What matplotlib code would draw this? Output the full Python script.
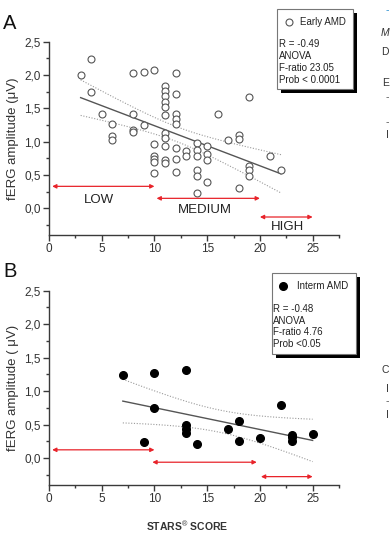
import numpy as np
import matplotlib
matplotlib.use('Agg')
import matplotlib.pyplot as plt
from matplotlib.patches import Rectangle
from matplotlib.lines import Line2D
from matplotlib.ticker import MultipleLocator, FuncFormatter

plt.rcParams['font.family'] = ['Liberation Sans', 'DejaVu Sans']
plt.rcParams['mathtext.fontset'] = 'custom'
plt.rcParams['mathtext.rm'] = 'Liberation Sans'
plt.rcParams['mathtext.bf'] = 'Liberation Sans:bold'

# ---------------- data ----------------
# Panel A: Early AMD (STARS score, fERG amplitude)
early_x = [3, 4, 4, 5, 6, 6, 6, 8, 8, 8, 8, 9, 9,
           10, 10, 10, 10, 10, 10,
           11, 11, 11, 11, 11, 11, 11, 11, 11, 11, 11,
           12, 12, 12, 12, 12, 12, 12, 12,
           13, 13, 14, 14, 14, 14, 14, 14,
           15, 15, 15, 15, 16, 17, 18, 18, 18,
           19, 19, 19, 19, 21, 22]
early_y = [2.00, 2.24, 1.75, 1.42, 1.27, 1.08, 1.02, 2.03, 1.41, 1.17, 1.14, 2.05, 1.25,
           2.07, 0.97, 0.78, 0.74, 0.70, 0.53,
           1.84, 1.76, 1.68, 1.60, 1.52, 1.40, 1.13, 1.06, 0.93, 0.73, 0.68,
           2.03, 1.72, 1.42, 1.34, 1.26, 0.90, 0.74, 0.54,
           0.86, 0.79, 0.98, 0.88, 0.79, 0.58, 0.48, 0.23,
           0.94, 0.82, 0.72, 0.39, 1.42, 1.03, 1.10, 1.04, 0.31,
           1.67, 0.64, 0.57, 0.49, 0.79, 0.57]

# Panel B: Intermediate AMD
interm_x = [7, 9, 10, 10, 13, 13, 13, 13, 14, 17, 18, 18, 20, 22, 23, 23, 23, 25]
interm_y = [1.24, 0.24, 1.27, 0.75, 1.32, 0.50, 0.44, 0.38, 0.21, 0.43, 0.56, 0.25,
            0.30, 0.79, 0.35, 0.31, 0.26, 0.36]

zone_names = ['LOW', 'MEDIUM', 'HIGH']
zone_ranges_a = [(0.3, 10.0), (10.2, 20.0), (20.0, 25.0)]
zone_ranges_b = [(0.3, 10.0), (9.8, 19.7), (20.1, 25.0)]

x_ticks = [0, 5, 10, 15, 20, 25]
y_ticks = [0.0, 0.5, 1.0, 1.5, 2.0, 2.5]

legend_a = ['Early AMD', 'R = -0.49', 'ANOVA', 'F-ratio 23.05', 'Prob < 0.0001']
legend_b = ['Interm AMD', 'R = -0.48', 'ANOVA', 'F-ratio 4.76', 'Prob <0.05']
t_crit_a = 2.0
t_crit_b = 2.12

# ---------------- layout ----------------
W, H = 390, 537
fig = plt.figure(figsize=(W / 100, H / 100), dpi=100)
RED = '#e8232a'
AXC = '#3a3a3a'


def px(x, y):
    return x / W, 1 - y / H


def setup_axis(ax, ylabel):
    ax.set_xlim(0, 27.5)
    ax.set_ylim(-0.4, 2.5)
    for s in ['top', 'right']:
        ax.spines[s].set_visible(False)
    for s in ['left', 'bottom']:
        ax.spines[s].set_color(AXC)
        ax.spines[s].set_linewidth(1.0)
    ax.set_xticks(x_ticks)
    ax.set_yticks(y_ticks)
    ax.xaxis.set_minor_locator(MultipleLocator(2.5))
    ax.yaxis.set_minor_locator(MultipleLocator(0.25))
    ax.yaxis.set_major_formatter(FuncFormatter(lambda v, p: f'{v:.1f}'.replace('.', ',')))
    ax.tick_params(which='major', direction='out', length=4, width=1, color=AXC,
                   labelsize=8.5, labelcolor='#333333', pad=2)
    ax.tick_params(which='minor', direction='out', length=2.5, width=1, color=AXC)
    ax.set_ylabel(ylabel, fontsize=9.5, color='#333333')
    ax.yaxis.set_label_coords(-0.103, 0.5)
    ax.patch.set_alpha(0)


def fit_lines(ax, xs, ys, tcrit):
    x = np.asarray(xs, float)
    y = np.asarray(ys, float)
    n = len(x)
    b, a = np.polyfit(x, y, 1)
    xx = np.linspace(x.min(), x.max(), 100)
    yy = a + b * xx
    resid = y - (a + b * x)
    s = np.sqrt(np.sum(resid ** 2) / (n - 2))
    sxx = np.sum((x - x.mean()) ** 2)
    se = s * np.sqrt(1 / n + (xx - x.mean()) ** 2 / sxx)
    ax.plot(xx, yy, color='#555555', lw=1.0, zorder=2)
    ax.plot(xx, yy + tcrit * se, color='#9a9a9a', lw=0.8, ls=(0, (1, 1.5)), zorder=2)
    ax.plot(xx, yy - tcrit * se, color='#9a9a9a', lw=0.8, ls=(0, (1, 1.5)), zorder=2)


def arrow(ax, x0, x1, y):
    ax.annotate('', xy=(x1, y), xytext=(x0, y),
                arrowprops=dict(arrowstyle='<|-|>', color=RED, lw=0.9,
                                mutation_scale=6, shrinkA=0, shrinkB=0))


def legend_box(box, shadow, marker_xy, filled, lines, title_x, text_x, line_ys):
    x0, y0, x1, y1 = box
    sh = Rectangle(px(x0 + shadow, y1 + shadow), (x1 - x0) / W, (y1 - y0) / H,
                   transform=fig.transFigure, facecolor='black', edgecolor='none', zorder=5)
    fig.add_artist(sh)
    bx = Rectangle(px(x0, y1), (x1 - x0) / W, (y1 - y0) / H,
                   transform=fig.transFigure, facecolor='white', edgecolor='#777777',
                   lw=0.8, zorder=6)
    fig.add_artist(bx)
    mx, my = px(*marker_xy)
    if filled:
        m = Line2D([mx], [my], marker='o', ms=5.5, mfc='black', mec='black',
                   transform=fig.transFigure, zorder=7)
    else:
        m = Line2D([mx], [my], marker='o', ms=5, mfc='white', mec='#555555', mew=0.8,
                   transform=fig.transFigure, zorder=7)
    fig.add_artist(m)
    fig.text(*px(title_x, marker_xy[1]), lines[0], fontsize=7, va='center', ha='left',
             color='#222222', zorder=8)
    for t, yy in zip(lines[1:], line_ys):
        fig.text(*px(text_x, yy), t, fontsize=7, va='center', ha='left',
                 color='#222222', zorder=8)


# ---------------- panel A ----------------
axA = fig.add_axes([49 / W, 1 - 235 / H, 290 / W, (235 - 41.7) / H])
setup_axis(axA, 'fERG amplitude (\u03bcV)')
fit_lines(axA, early_x, early_y, t_crit_a)
axA.plot(early_x, early_y, ls='none', marker='o', ms=5, mfc='white', mec='#555555',
         mew=0.8, zorder=3)
for (x0, x1), yv in zip(zone_ranges_a, [0.33, 0.15, -0.13]):
    arrow(axA, x0, x1, yv)
for name, (xc, yc) in zip(zone_names, [(4.7, 0.13), (14.8, -0.03), (22.6, -0.28)]):
    axA.text(xc, yc, name, fontsize=9.5, ha='center', va='center', color='#222222')

# ---------------- panel B ----------------
axB = fig.add_axes([49 / W, 1 - 485 / H, 290 / W, (485 - 290.7) / H])
setup_axis(axB, 'fERG amplitude ( \u03bcV)')
fit_lines(axB, interm_x, interm_y, t_crit_b)
axB.plot(interm_x, interm_y, ls='none', marker='o', ms=5.5, mfc='black', mec='black',
         zorder=3)
for (x0, x1), yv in zip(zone_ranges_b, [0.125, -0.06, -0.275]):
    arrow(axB, x0, x1, yv)

fig.text(*px(187.5, 526), r'STARS$^{\circledR}$ SCORE', fontsize=7.5, fontweight='bold',
         ha='center', va='center', color='#333333')

# panel letters
fig.text(*px(3, 29.3), 'A', fontsize=14.5, ha='left', va='baseline', color='#111111')
fig.text(*px(3, 276.7), 'B', fontsize=14.5, ha='left', va='baseline', color='#111111')

# legends
legend_box((277, 9.3, 353, 89.3), 4, (289, 21.7), False, legend_a, 300, 279.3,
           [44.3, 56, 68.3, 80])
legend_box((272, 273.3, 356, 354), 4, (283.3, 285.7), True, legend_b, 296.7, 272.7,
           [309, 320.7, 332, 343.7])

# fragments of neighbouring page text at the right edge (kept inside the figure)
frag = [('-', 10, '#2a8fd0', 'normal'), ('M', 33, '#333333', 'italic'),
        ('D', 52, '#333333', 'normal'), ('E', 83, '#333333', 'normal'),
        ('-', 97, '#555555', 'normal'), ('-', 122, '#555555', 'normal'),
        ('I', 135, '#333333', 'normal'), ('C', 370, '#333333', 'normal'),
        ('I', 389, '#333333', 'normal'), ('-', 401, '#555555', 'normal'),
        ('I', 415, '#333333', 'normal')]
for t, yy, c, st in frag:
    fig.text(*px(389, yy), t, fontsize=7.5, ha='right', va='center', color=c, style=st)

fig.savefig('out.png', dpi=100)
